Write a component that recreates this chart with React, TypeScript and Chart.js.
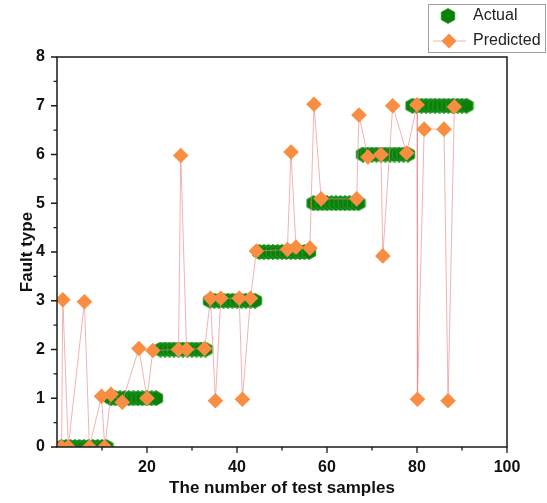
import React, { useEffect, useRef } from 'react';
import { Chart, registerables } from 'chart.js';

Chart.register(...registerables);

// Actual fault type for each test sample (sample index 1..91)
const actualX = [
  1, 2, 3, 4, 5, 6, 7, 8, 9, 10, 11,
  12, 13, 14, 15, 16, 17, 18, 19, 20, 21, 22,
  23, 24, 25, 26, 27, 28, 29, 30, 31, 32, 33,
  34, 35, 36, 37, 38, 39, 40, 41, 42, 43, 44,
  45, 46, 47, 48, 49, 50, 51, 52, 53, 54, 55, 56,
  57, 58, 59, 60, 61, 62, 63, 64, 65, 66, 67,
  68, 69, 70, 71, 72, 73, 74, 75, 76, 77, 78,
  79, 80, 81, 82, 83, 84, 85, 86, 87, 88, 89, 90, 91,
];
const actualY = [
  0, 0, 0, 0, 0, 0, 0, 0, 0, 0, 0,
  1, 1, 1, 1, 1, 1, 1, 1, 1, 1, 1,
  2, 2, 2, 2, 2, 2, 2, 2, 2, 2, 2,
  3, 3, 3, 3, 3, 3, 3, 3, 3, 3, 3,
  4, 4, 4, 4, 4, 4, 4, 4, 4, 4, 4, 4,
  5, 5, 5, 5, 5, 5, 5, 5, 5, 5, 5,
  6, 6, 6, 6, 6, 6, 6, 6, 6, 6, 6,
  7, 7, 7, 7, 7, 7, 7, 7, 7, 7, 7, 7, 7,
];

// Predicted points
const predictedX = [
  1.0, 1.3, 2.5, 6.1, 7.2, 9.9, 10.6, 12.0, 14.5, 18.2, 20.0, 21.3,
  27.0, 27.5, 28.8, 32.8, 34.1, 35.2, 36.4, 40.5, 41.2, 43.0,
  44.3, 51.2, 52.0, 53.1, 56.2, 57.1, 58.7, 66.6, 67.1, 69.1,
  72.0, 72.4, 74.6, 77.7, 80.0, 80.1, 81.6, 86.0, 86.9, 88.3,
];
const predictedY = [
  0, 3.02, 0, 2.98, 0, 1.04, 0, 1.08, 0.92, 2.02, 1.0, 1.98,
  2.0, 5.98, 2.0, 2.02, 3.05, 0.95, 3.05, 3.05, 0.98, 3.05,
  4.02, 4.05, 6.05, 4.1, 4.08, 7.03, 5.09, 5.09, 6.81, 5.95,
  6.0, 3.92, 7.0, 6.03, 7.02, 0.98, 6.52, 6.52, 0.95, 6.98,
];

const xTickLabels = [20, 40, 60, 80, 100];
const xMinorTicks = [10, 30, 50, 70, 90];
const yTickLabels = [0, 1, 2, 3, 4, 5, 6, 7, 8];
const yMinorTicks = [0.5, 1.5, 2.5, 3.5, 4.5, 5.5, 6.5, 7.5];

const GREEN = '#0a800a';
const GREEN_EDGE = '#2a9a2a';
const ORANGE = '#F98D42';
const LINE = 'rgba(232,140,140,0.65)';
const FONT = '"Liberation Sans", Arial, sans-serif';

function makeHex(size: number) {
  const c = document.createElement('canvas');
  c.width = size;
  c.height = size;
  const ctx = c.getContext('2d')!;
  const r = size / 2 - 0.6;
  const rx = r * 1.05;
  ctx.beginPath();
  for (let k = 0; k < 6; k++) {
    const a = -Math.PI / 2 + (k * Math.PI) / 3;
    const px = size / 2 + rx * Math.cos(a);
    const py = size / 2 + r * Math.sin(a);
    if (k === 0) ctx.moveTo(px, py);
    else ctx.lineTo(px, py);
  }
  ctx.closePath();
  ctx.fillStyle = GREEN;
  ctx.fill();
  ctx.strokeStyle = GREEN_EDGE;
  ctx.lineWidth = 1;
  ctx.stroke();
  return c;
}

export default function App() {
  const ref = useRef<HTMLCanvasElement | null>(null);

  useEffect(() => {
    if (!ref.current) return;
    const hex = makeHex(16);

    const framePlugin = {
      id: 'frameAndLegend',
      afterDraw(chart: any) {
        const ctx = chart.ctx as CanvasRenderingContext2D;
        const { left, right, top, bottom } = chart.chartArea;
        const xs = chart.scales.x;
        const ys = chart.scales.y;
        ctx.save();
        // frame
        ctx.strokeStyle = '#1a1a1a';
        ctx.lineWidth = 1.5;
        ctx.strokeRect(left, top, right - left, bottom - top);
        // ticks
        ctx.lineWidth = 1.3;
        ctx.beginPath();
        yTickLabels.forEach((v) => {
          const p = ys.getPixelForValue(v);
          ctx.moveTo(left, p);
          ctx.lineTo(left - 6, p);
        });
        yMinorTicks.forEach((v) => {
          const p = ys.getPixelForValue(v);
          ctx.moveTo(left, p);
          ctx.lineTo(left - 3.5, p);
        });
        xTickLabels.forEach((v) => {
          const p = xs.getPixelForValue(v);
          ctx.moveTo(p, bottom);
          ctx.lineTo(p, bottom + 6);
        });
        xMinorTicks.forEach((v) => {
          const p = xs.getPixelForValue(v);
          ctx.moveTo(p, bottom);
          ctx.lineTo(p, bottom + 3.5);
        });
        ctx.stroke();

        // legend
        ctx.fillStyle = '#ffffff';
        ctx.fillRect(428.5, 4.5, 117, 48);
        ctx.strokeStyle = '#a0a0a0';
        ctx.lineWidth = 1;
        ctx.strokeRect(428.5, 4.5, 117, 48);
        ctx.drawImage(hex, 448 - 8, 16 - 8);
        ctx.strokeStyle = LINE;
        ctx.beginPath();
        ctx.moveTo(433, 41);
        ctx.lineTo(466, 41);
        ctx.stroke();
        ctx.fillStyle = ORANGE;
        ctx.beginPath();
        ctx.moveTo(449, 33.5);
        ctx.lineTo(456.5, 41);
        ctx.lineTo(449, 48.5);
        ctx.lineTo(441.5, 41);
        ctx.closePath();
        ctx.fill();
        ctx.fillStyle = '#222';
        ctx.font = `16px ${FONT}`;
        ctx.textBaseline = 'middle';
        ctx.textAlign = 'left';
        ctx.fillText('Actual', 473, 16);
        ctx.fillText('Predicted', 473, 41);
        ctx.restore();
      },
    };

    const chart = new Chart(ref.current, {
      type: 'scatter',
      data: {
        datasets: [
          {
            label: 'Actual',
            data: actualX.map((x, i) => ({ x, y: actualY[i] })),
            pointStyle: hex as any,
            showLine: false,
            order: 2,
          },
          {
            label: 'Predicted',
            data: predictedX.map((x, i) => ({ x, y: predictedY[i] })),
            showLine: true,
            borderColor: LINE,
            borderWidth: 1,
            pointStyle: 'rectRot',
            pointRadius: 7.8,
            pointBackgroundColor: ORANGE,
            pointBorderWidth: 0,
            tension: 0,
            order: 1,
          },
        ],
      },
      options: {
        responsive: true,
        maintainAspectRatio: false,
        animation: false,
        layout: { padding: { left: 0, top: 57, right: 40, bottom: 0 } },
        plugins: {
          legend: { display: false },
          tooltip: { enabled: false },
        },
        scales: {
          x: {
            type: 'linear',
            min: 0,
            max: 100,
            afterBuildTicks: (s: any) => {
              s.ticks = xTickLabels.map((v) => ({ value: v }));
            },
            afterFit: (s: any) => {
              s.height = 56;
            },
            grid: { display: false, drawTicks: false },
            border: { display: false },
            ticks: {
              padding: 11,
              color: '#111',
              font: { family: FONT, size: 16, weight: 'bold' },
              maxRotation: 0,
              autoSkip: false,
            },
            title: {
              display: true,
              text: 'The number of test samples',
              color: '#111',
              font: { family: FONT, size: 17, weight: 'bold' },
              padding: { top: 0, bottom: 4 },
            },
          },
          y: {
            type: 'linear',
            min: 0,
            max: 8,
            afterBuildTicks: (s: any) => {
              s.ticks = yTickLabels.map((v) => ({ value: v }));
            },
            afterFit: (s: any) => {
              s.width = 57;
            },
            grid: { display: false, drawTicks: false },
            border: { display: false },
            ticks: {
              padding: 12,
              color: '#111',
              font: { family: FONT, size: 16, weight: 'bold' },
              autoSkip: false,
            },
            title: {
              display: true,
              text: 'Fault type',
              color: '#111',
              font: { family: FONT, size: 17, weight: 'bold' },
              padding: { top: 17, bottom: 0 },
            },
          },
        },
      },
      plugins: [framePlugin],
    });
    return () => chart.destroy();
  }, []);

  return (
    <div style={{ position: 'absolute', left: 0, top: 0, width: 547, height: 503, background: '#fff' }}>
      <canvas ref={ref} />
    </div>
  );
}
